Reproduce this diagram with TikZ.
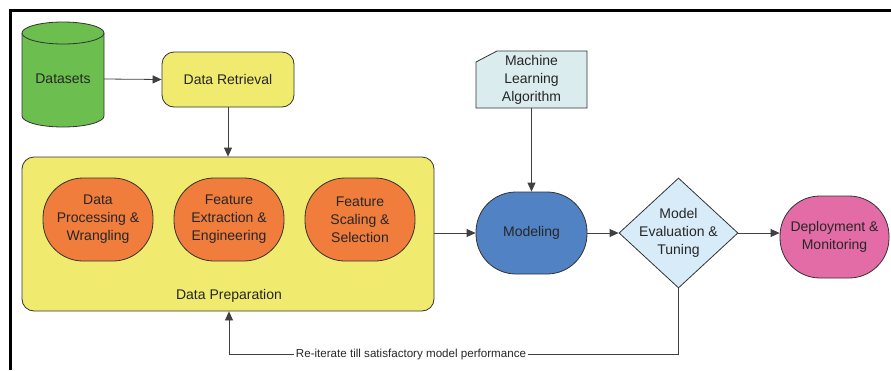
\documentclass[tikz,border=0pt]{standalone}
\usepackage{fontspec}
\setmainfont{Liberation Sans}
\usetikzlibrary{shapes.geometric,arrows.meta,calc}
\definecolor{cgreen}{RGB}{108,190,78}
\definecolor{cyellow}{RGB}{240,235,110}
\definecolor{corange}{RGB}{240,125,60}
\definecolor{cblue}{RGB}{80,130,196}
\definecolor{cdiam}{RGB}{215,236,248}
\definecolor{cmla}{RGB}{218,236,238}
\definecolor{cpink}{RGB}{227,108,166}
\begin{document}
\begin{tikzpicture}[x=1pt,y=-1pt,
  lbl/.style={font=\fontsize{14}{18}\selectfont, align=center, text=black!85},
  small/.style={font=\fontsize{11.6}{14}\selectfont, text=black!85, inner sep=2pt},
  box/.style={draw=black!80, line width=0.8pt},
  conn/.style={draw=black!75, line width=0.8pt, -{Triangle[length=9pt,width=8pt]}},
  plain/.style={draw=black!75, line width=0.8pt},
  pill/.style={box, lbl, rounded corners=40pt, inner sep=0pt},
]
\useasboundingbox (0,0) rectangle (891,370);
% frame
\draw[line width=3pt] (10.5,370) -- (10.5,10.5) -- (891,10.5);

% Datasets cylinder
\fill[cgreen] (22,33) -- (22,116) arc[start angle=180, end angle=360, x radius=41pt, y radius=11pt] -- (104,33) -- cycle;
\draw[box] (22,33) -- (22,116) arc[start angle=180, end angle=360, x radius=41pt, y radius=11pt] -- (104,33);
\draw[box, fill=cgreen] (63,33) ellipse [x radius=41pt, y radius=11pt];
\node[lbl, minimum width=82pt, inner sep=0pt] (ds) at (63,79) {Datasets};

% Data Retrieval
\node[box, lbl, fill=cyellow, rounded corners=12pt, minimum width=132pt, minimum height=55pt] (dr) at (228,79.5) {Data Retrieval};

% Data Preparation container
\node[box, fill=cyellow, rounded corners=12pt, minimum width=412pt, minimum height=154pt] (prep) at (228,234) {};
\node[lbl] (preplbl) at (229,296) {Data Preparation};
\node[pill, fill=corange, minimum width=110pt, minimum height=83pt] (dp) at (98,219.5) {Data\\Processing \&\\Wrangling};
\node[pill, fill=corange, minimum width=110pt, minimum height=83pt] (fe) at (229,219.5) {Feature\\Extraction \&\\Engineering};
\node[pill, fill=corange, minimum width=110pt, minimum height=83pt] (fs) at (360,219.5) {Feature\\Scaling \&\\Selection};

% Machine Learning Algorithm
\draw[box, fill=cmla] (476,108) -- (476,62) -- (497,51) -- (587,51) -- (587,108) -- cycle;
\node[lbl, minimum width=111pt, minimum height=57pt, inner sep=0pt] (mla) at (531.5,79.5) {Machine\\Learning\\Algorithm};

% Modeling
\node[pill, fill=cblue, minimum width=111pt, minimum height=82pt] (model) at (531.5,233) {Modeling};

% Evaluation diamond
\node[diamond, box, fill=cdiam, minimum width=119pt, minimum height=110pt, inner sep=0pt] (ev) at (678.5,233) {};
\node[lbl] (evt) at (ev.center) {Model\\Evaluation \&\\Tuning};

% Deployment
\node[pill, fill=cpink, minimum width=109pt, minimum height=82pt] (dep) at (834.5,237) {Deployment \&\\Monitoring};

% connectors
\draw[conn] (ds.east) -- (dr.west);
\draw[conn] (dr.south) -- (prep.north);
\draw[conn] (prep.east |- model.west) -- (model.west);
\draw[conn] (mla.south) -- (model.north);
\draw[conn] (model.east) -- (ev.west);
\draw[conn] (ev.east) -- (dep.west |- ev.east);

% feedback loop
\node[small] (rl) at (411,354.5) {Re-iterate till satisfactory model performance};
\draw[plain] (ev.south) |- (rl.east);
\draw[conn] (rl.west) -| (preplbl.south |- prep.south);
\end{tikzpicture}
\end{document}
